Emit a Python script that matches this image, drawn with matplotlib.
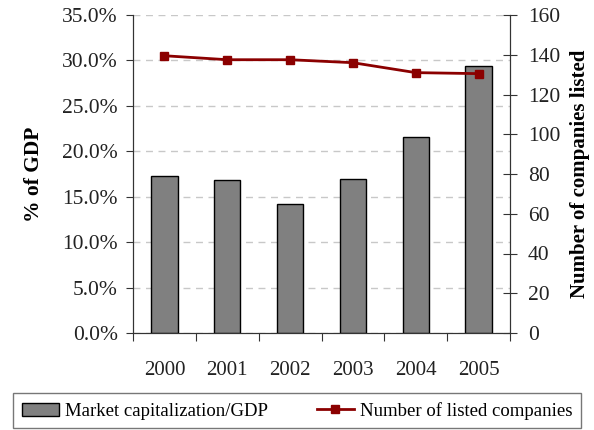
import matplotlib
matplotlib.use('Agg')
import matplotlib.pyplot as plt
import numpy as np
from matplotlib.ticker import FuncFormatter

plt.rcParams['font.family'] = ['Liberation Serif', 'DejaVu Serif']

# data
years = ['2000', '2001', '2002', '2003', '2004', '2005']
mcap_gdp = [17.3, 16.8, 14.2, 17.0, 21.6, 29.4]   # % of GDP
listed = [139.5, 137.5, 137.5, 136.0, 131.0, 130.5]

fig = plt.figure(figsize=(5.94, 4.30), dpi=100)
ax = fig.add_axes([133/594, 1-333/430, 377/594, 318/430])
ax2 = ax.twinx()

x = np.arange(len(years))
bars = ax.bar(x, mcap_gdp, width=0.42, color='#808080', edgecolor='black',
              linewidth=1.0, zorder=3, label='Market capitalization/GDP')
ln, = ax2.plot(x, listed, color='#8B0000', lw=2, marker='s', ms=6,
               zorder=4, label='Number of listed companies')

ax.set_xlim(-0.5, len(years) - 0.5)
ax.set_ylim(0, 35)
ax.set_yticks(np.arange(0, 36, 5))
ax.yaxis.set_major_formatter(FuncFormatter(lambda v, p: '%.1f%%' % v))
ax2.set_ylim(0, 160)
ax2.set_yticks(np.arange(0, 161, 20))

ax.set_xticks(np.arange(-0.5, len(years), 1.0))
ax.set_xticklabels([])
ax.set_xticks(x, minor=True)
ax.set_xticklabels(years, minor=True)
ax.tick_params(axis='x', which='minor', length=0, pad=20, labelsize=15, colors='#222222')
ax.tick_params(axis='x', which='major', length=6, direction='out', color='#333333')
ax.tick_params(axis='y', length=5, direction='out', labelsize=15.5, color='#333333',
               labelcolor='#222222', pad=6)
ax2.tick_params(axis='y', length=10, direction='inout', labelsize=15.5, color='#333333',
                labelcolor='#222222', pad=8)

ax.yaxis.grid(True, color='#c8c8c8', linestyle=(0, (5, 4)), lw=1, zorder=0)
for a in (ax, ax2):
    a.spines['top'].set_visible(False)
    for s in ('left', 'right', 'bottom'):
        a.spines[s].set_color('#333333')

ax.set_ylabel('% of GDP', fontsize=15.5, fontweight='bold', labelpad=13)
ax2.set_ylabel('Number of companies listed', fontsize=15, fontweight='bold', labelpad=7)

leg = fig.legend([bars, ln], ['Market capitalization/GDP', 'Number of listed companies'],
                 loc='lower center', bbox_to_anchor=(0.5, 0.0), ncol=2, fontsize=13.5,
                 frameon=True, fancybox=False, edgecolor='#555555', handlelength=2.0,
                 columnspacing=2.6, borderpad=0.45, handletextpad=0.3, borderaxespad=0.1)
leg.get_frame().set_linewidth(1.0)

fig.savefig('out.png', dpi=100)
